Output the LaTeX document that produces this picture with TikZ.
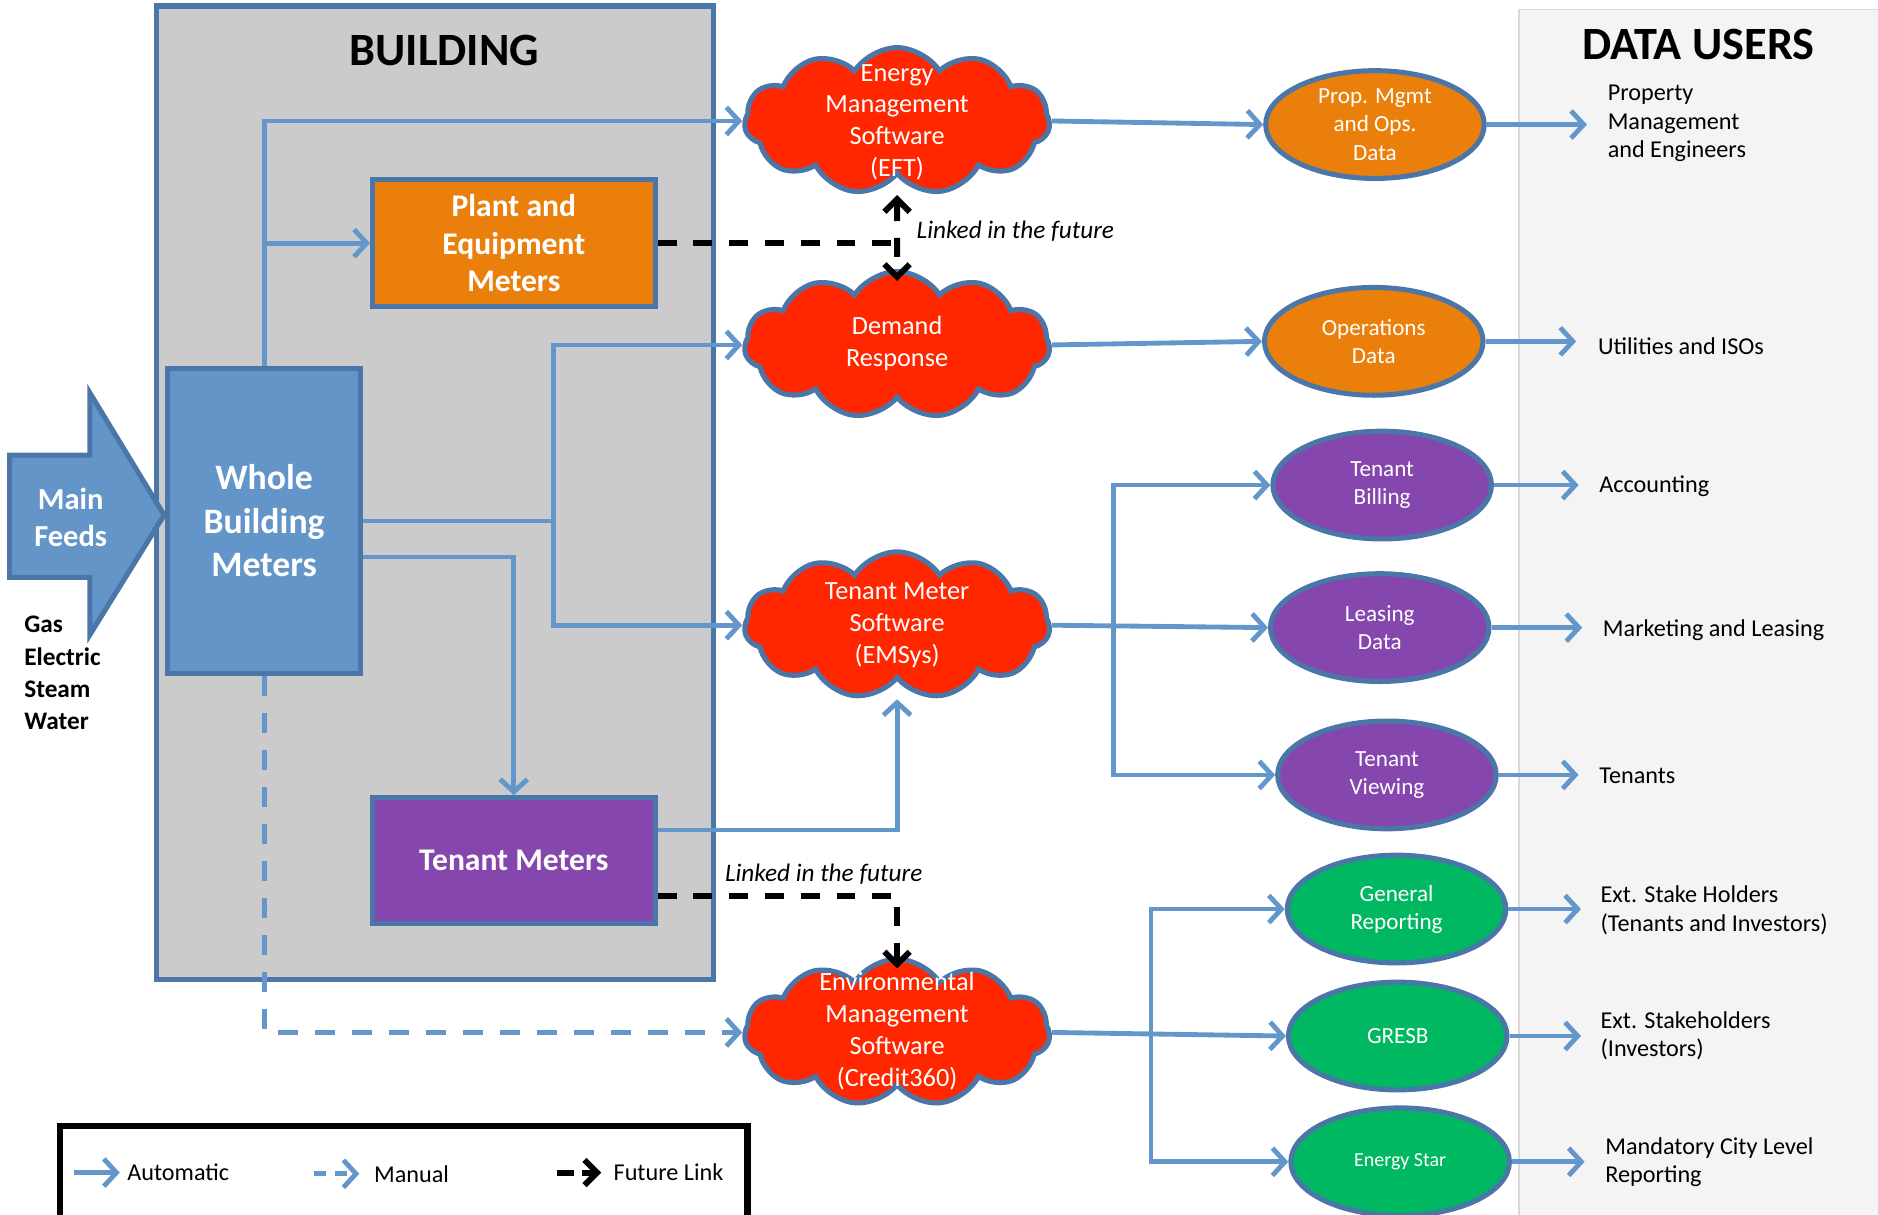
\documentclass[tikz,border=0pt]{standalone}
\usepackage{fontspec}
\setmainfont{Carlito}
\usetikzlibrary{shapes.geometric,shapes.symbols,arrows.meta}
\definecolor{lineblue}{HTML}{6396CA}
\definecolor{edgeblue}{HTML}{4A76A8}
\definecolor{meterblue}{HTML}{6395C9}
\definecolor{bldgray}{HTML}{CBCBCB}
\definecolor{usergray}{HTML}{F4F4F4}
\definecolor{plantorange}{HTML}{EA800B}
\definecolor{tenantpurple}{HTML}{8547AD}
\definecolor{cloudred}{HTML}{FF2600}
\definecolor{reportgreen}{HTML}{00B862}
\tikzset{
  meterbox/.style={draw=edgeblue, line width=2.4pt, text=white, align=center, inner sep=0pt,
    font=\bfseries\fontsize{15}{17.8}\selectfont},
  swcloud/.style={cloud, cloud puffs=11, cloud puff arc=115, aspect=2.2, draw=edgeblue,
    line width=2.4pt, fill=cloudred, inner sep=0pt, minimum width=5.1cm, minimum height=2.45cm},
  cloudtext/.style={text=white, align=center, inner sep=0pt, font=\fontsize{12.5}{15.1}\selectfont},
  dataset/.style={ellipse, draw=edgeblue, line width=2.4pt, text=white, align=center,
    inner sep=-4pt, minimum width=3.65cm, minimum height=1.8cm, font=\fontsize{11}{13.4}\selectfont},
  userlabel/.style={anchor=west, align=left, inner sep=0pt, font=\fontsize{11.5}{13.4}\selectfont},
  heading/.style={font=\bfseries\fontsize{22}{26}\selectfont},
  autoline/.style={draw=lineblue, line width=2.3pt, -{Straight Barb[length=6pt,width=13pt]}},
  manualline/.style={autoline, dash pattern=on 9.6pt off 8pt},
  futureline/.style={draw=black, line width=2.8pt, dash pattern=on 9pt off 8pt,
    -{Straight Barb[length=6pt,width=12pt]}},
}
\begin{document}
\begin{tikzpicture}[x=0.02cm, y=-0.02cm]
  \useasboundingbox (0,0) rectangle (1568,1014);
  % backgrounds
  \fill[usergray] (1268,8) rectangle (1580,1020);
  \draw[black!15, line width=0.8pt] (1268,1020) |- (1580,8);
  \draw[edgeblue, fill=bldgray, line width=2.4pt] (131,5) rectangle (596,818);
  \node[heading] (bldtitle) at (371,42) {BUILDING};
  \node[heading] (usertitle) at (1418,37) {DATA USERS};

  % main feeds
  \draw[edgeblue, fill=meterblue, line width=2.4pt] (8,380) -- (75,380) -- (75,328) -- (137,430)
    -- (75,530) -- (75,482) -- (8,482) -- cycle;
  \node[text=white, align=center, font=\bfseries\fontsize{14.5}{17.6}\selectfont] (feeds) at (59,432) {Main\\Feeds};
  \node[anchor=west, align=left, inner sep=0pt, font=\bfseries\fontsize{12}{15.4}\selectfont] (feedlist) at (20,562) {Gas\\Electric\\Steam\\Water};

  % meters
  \node[meterbox, fill=meterblue, minimum width=3.22cm, minimum height=5.08cm,
    font=\bfseries\fontsize{17}{20.7}\selectfont] (wbm) at (220.5,435) {Whole\\Building\\Meters};
  \node[meterbox, fill=plantorange, minimum width=4.72cm, minimum height=2.12cm] (plant) at (429,203) {Plant and\\Equipment\\Meters};
  \node[meterbox, fill=tenantpurple, minimum width=4.72cm, minimum height=2.1cm] (tm) at (429,718.5) {Tenant Meters};

  % software
  \node[swcloud] (eft) at (749,101) {};
  \node[cloudtext] (efttext) at (749,102) {Energy\\Management\\Software\\(EFT)};
  \node[swcloud] (dr) at (749,288) {};
  \node[cloudtext] (drtext) at (749,287) {Demand\\Response};
  \node[swcloud] (tms) at (749,522) {};
  \node[cloudtext] (tmstext) at (749,522) {Tenant Meter\\Software\\(EMSys)};
  \node[swcloud] (env) at (749,862) {};
  \node[cloudtext] (envtext) at (749,861) {Environmental\\Management\\Software\\(Credit360)};

  % data sets
  \node[dataset, fill=plantorange] (prop) at (1148,104) {Prop. Mgmt\\and Ops.\\Data};
  \node[dataset, fill=plantorange] (ops) at (1147,285) {Operations\\Data};
  \node[dataset, fill=tenantpurple] (billing) at (1154,405) {Tenant\\Billing};
  \node[dataset, fill=tenantpurple] (leasing) at (1152,524) {Leasing\\Data};
  \node[dataset, fill=tenantpurple] (viewing) at (1158,647) {Tenant\\Viewing};
  \node[dataset, fill=reportgreen] (genrep) at (1166,759) {General\\Reporting};
  \node[dataset, fill=reportgreen] (gresb) at (1167,865) {GRESB};
  \node[dataset, fill=reportgreen, font=\fontsize{9.5}{12}\selectfont] (estar) at (1169,970) {Energy Star};

  % users
  \node[userlabel] (pmeng) at (1342,103) {Property\\Management\\and Engineers};
  \node[userlabel] (util) at (1334,289) {Utilities and ISOs};
  \node[userlabel] (acct) at (1335,406) {Accounting};
  \node[userlabel] (mkt) at (1338,526) {Marketing and Leasing};
  \node[userlabel] (tnts) at (1335,648) {Tenants};
  \node[userlabel] (stake) at (1336,760) {Ext. Stake Holders\\(Tenants and Investors)};
  \node[userlabel] (invest) at (1336,865) {Ext. Stakeholders\\(Investors)};
  \node[userlabel] (city) at (1340,970) {Mandatory City Level\\Reporting};

  % building connections
  \draw[autoline] (wbm.north) |- (eft.west);
  \draw[autoline] (wbm.north |- plant.west) -- (plant.west);
  \coordinate (jA) at (462,435);
  \draw[autoline] (wbm.east) -- (jA) |- (dr.west);
  \draw[autoline] (jA) |- (tms.west);
  \draw[autoline] ([yshift=-0.6cm]wbm.east) -| (tm.north);
  \draw[autoline, shorten >=0.3cm] ([yshift=0.51cm]tm.east) -| (tms.south);
  \draw[manualline] (wbm.south) |- (env.west);
  \draw[futureline, -] (plant.east) -- (plant.east -| eft.south);
  \draw[futureline, {Straight Barb[length=6pt,width=12pt]}-{Straight Barb[length=6pt,width=12pt]},
    shorten <=0.3cm, shorten >=-0.2cm] (eft.south) -- (dr.north);
  \draw[futureline, shorten >=-0.2cm] ([yshift=-0.59cm]tm.east) -| (env.north);
  \node[userlabel, font=\itshape\fontsize{12}{14}\selectfont] (link1) at (765,193) {Linked in the future};
  \node[userlabel, font=\itshape\fontsize{12}{14}\selectfont] (link2) at (605,730) {Linked in the future};

  % software to data sets
  \draw[autoline] (eft.east) -- (prop.west);
  \draw[autoline] (dr.east) -- (ops.west);
  \coordinate (jB) at (930,522);
  \draw[autoline] (tms.east) -- (leasing.west);
  \draw[autoline] (jB) |- (billing.west);
  \draw[autoline] (jB) |- (viewing.west);
  \coordinate (jC) at (961,862);
  \draw[autoline] (env.east) -- (gresb.west);
  \draw[autoline] (jC) |- (genrep.west);
  \draw[autoline] (jC) |- (estar.west);

  % data sets to users
  \draw[autoline, shorten >=0.34cm] (prop.east) -- (prop.east -| pmeng.west);
  \draw[autoline, shorten >=0.36cm] (ops.east) -- (ops.east -| util.west);
  \draw[autoline, shorten >=0.34cm] (billing.east) -- (billing.east -| acct.west);
  \draw[autoline, shorten >=0.34cm] (leasing.east) -- (leasing.east -| mkt.west);
  \draw[autoline, shorten >=0.34cm] (viewing.east) -- (viewing.east -| tnts.west);
  \draw[autoline, shorten >=0.32cm] (genrep.east) -- (genrep.east -| stake.west);
  \draw[autoline, shorten >=0.32cm] (gresb.east) -- (gresb.east -| invest.west);
  \draw[autoline, shorten >=0.34cm] (estar.east) -- (estar.east -| city.west);

  % legend
  \draw[black, line width=3pt] (50,940) rectangle (624,1030);
  \node[userlabel] (lauto) at (106,979) {Automatic};
  \draw[autoline] ([xshift=-0.88cm]lauto.west) -- ([xshift=-0.12cm]lauto.west);
  \node[userlabel] (lmanual) at (312,980) {Manual};
  \draw[manualline, dash pattern=on 6pt off 4pt] ([xshift=-1cm]lmanual.west) -- ([xshift=-0.24cm]lmanual.west);
  \node[userlabel] (lfuture) at (512,979) {Future Link};
  \draw[futureline, dash pattern=on 8pt off 4pt] ([xshift=-0.94cm]lfuture.west) -- ([xshift=-0.2cm]lfuture.west);
\end{tikzpicture}
\end{document}
